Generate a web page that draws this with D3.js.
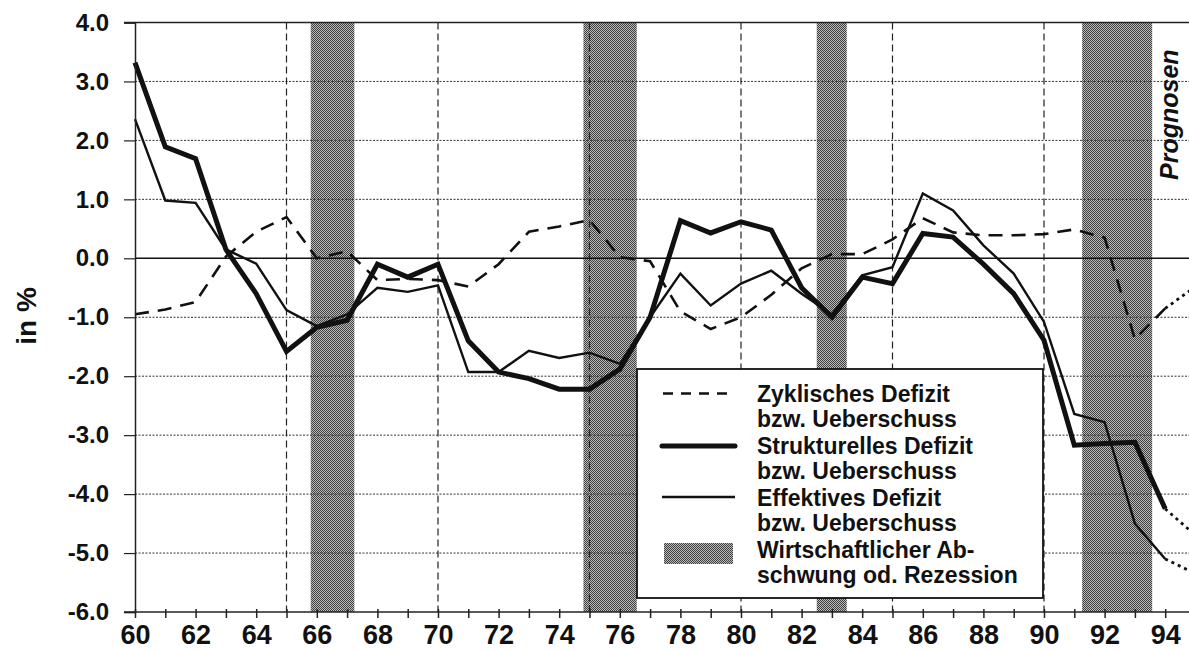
<!DOCTYPE html>
<html>
<head>
<meta charset="utf-8">
<script src="https://cdn.jsdelivr.net/npm/d3@7"></script>
<style>
body { margin: 0; background: #fff; }
svg { display: block; font-family: "Liberation Sans", Arial, sans-serif; font-weight: bold; }
</style>
</head>
<body>
<svg id="chart" width="1189" height="651"></svg>
<script>
// Jahre 1960 - 1994
var years = d3.range(60, 95);

var zyklisch = [-0.95, -0.87, -0.74, 0.03, 0.45, 0.70, 0.00, 0.12, -0.37, -0.35,
                -0.37, -0.48, -0.10, 0.45, 0.54, 0.65, 0.02, -0.05, -0.90, -1.20,
                -1.00, -0.62, -0.17, 0.07, 0.07, 0.32, 0.68, 0.44, 0.39, 0.39,
                0.41, 0.49, 0.35, -1.37, -0.85];

var strukturell = [3.32, 1.89, 1.69, 0.15, -0.60, -1.58, -1.17, -1.05, -0.10, -0.32,
                   -0.10, -1.40, -1.93, -2.04, -2.22, -2.22, -1.88, -1.00, 0.64, 0.43,
                   0.62, 0.48, -0.50, -1.00, -0.32, -0.43, 0.42, 0.36, -0.10, -0.60,
                   -1.39, -3.17, -3.14, -3.12, -4.25];

var effektiv = [2.36, 0.98, 0.94, 0.15, -0.09, -0.88, -1.15, -0.95, -0.50, -0.57,
                -0.46, -1.93, -1.93, -1.57, -1.69, -1.60, -1.79, -1.00, -0.26, -0.80,
                -0.43, -0.21, -0.60, -0.95, -0.29, -0.15, 1.10, 0.81, 0.22, -0.26,
                -1.08, -2.64, -2.78, -4.50, -5.10];

// Prognosen (punktiert)
var prognoseJahre = [94, 95];
var zyklischPrognose = [-0.85, -0.48];
var strukturellPrognose = [-4.25, -4.70];
var effektivPrognose = [-5.10, -5.35];

// Rezessionsphasen
var rezessionStart = [65.8, 74.8, 82.5, 91.26];
var rezessionEnde = [67.24, 76.56, 83.49, 93.57];

var yTicks = [-6, -5, -4, -3, -2, -1, 0, 1, 2, 3, 4];
var dashedYears = [65, 70, 75, 80, 85, 90];

var legendLabels = [
    ['Zyklisches Defizit', 'bzw. Ueberschuss'],
    ['Strukturelles Defizit', 'bzw. Ueberschuss'],
    ['Effektives Defizit', 'bzw. Ueberschuss'],
    ['Wirtschaftlicher Ab-', 'schwung od. Rezession']
];

var svg = d3.select('#chart');

var x = d3.scaleLinear().domain([60, 95]).range([135, 135 + 35 * 30.3]);
var y = d3.scaleLinear().domain([-6, 4]).range([612, 22.5]);

// hatch pattern for recession bands
var defs = svg.append('defs');
var pat = defs.append('pattern')
    .attr('id', 'hatch')
    .attr('patternUnits', 'userSpaceOnUse')
    .attr('width', 2).attr('height', 2);
pat.append('rect').attr('width', 2).attr('height', 2).attr('fill', '#b8b8b8');
pat.append('rect').attr('x', 0).attr('y', 0).attr('width', 1).attr('height', 1).attr('fill', '#424242');
pat.append('rect').attr('x', 1).attr('y', 1).attr('width', 1).attr('height', 1).attr('fill', '#424242');

// bands
svg.append('g').selectAll('rect')
    .data(rezessionStart)
    .enter().append('rect')
    .attr('x', d => x(d))
    .attr('y', y(4))
    .attr('width', (d, i) => x(rezessionEnde[i]) - x(d))
    .attr('height', y(-6) - y(4))
    .attr('fill', 'url(#hatch)');

// horizontal dotted grid
svg.append('g').selectAll('line')
    .data(yTicks.filter(d => d !== 0 && d !== 4 && d !== -6))
    .enter().append('line')
    .attr('x1', x(60)).attr('x2', 1189)
    .attr('y1', d => y(d)).attr('y2', d => y(d))
    .attr('stroke', '#333')
    .attr('stroke-width', 1)
    .attr('stroke-dasharray', '2,1.5');

// vertical dashed lines
svg.append('g').selectAll('line')
    .data(dashedYears)
    .enter().append('line')
    .attr('x1', d => x(d)).attr('x2', d => x(d))
    .attr('y1', y(4)).attr('y2', y(-6))
    .attr('stroke', '#222')
    .attr('stroke-width', 1.2)
    .attr('stroke-dasharray', '7,4');

// zero line and top border
svg.append('line')
    .attr('x1', x(60)).attr('x2', 1189)
    .attr('y1', y(0)).attr('y2', y(0))
    .attr('stroke', '#111').attr('stroke-width', 1.6);
svg.append('line')
    .attr('x1', x(60) - 11).attr('x2', 1189)
    .attr('y1', y(4)).attr('y2', y(4))
    .attr('stroke', '#222').attr('stroke-width', 1.5);

var line = d3.line()
    .x((d, i) => x(years[i]))
    .y(d => y(d));
var lineP = d3.line()
    .x((d, i) => x(prognoseJahre[i]))
    .y(d => y(d));

svg.append('path').datum(effektiv)
    .attr('d', line)
    .attr('fill', 'none').attr('stroke', '#111')
    .attr('stroke-width', 2.4).attr('stroke-linejoin', 'miter');

svg.append('path').datum(strukturell)
    .attr('d', line)
    .attr('fill', 'none').attr('stroke', '#111')
    .attr('stroke-width', 5).attr('stroke-linejoin', 'miter');

svg.append('path').datum(zyklisch)
    .attr('d', line)
    .attr('fill', 'none').attr('stroke', '#111')
    .attr('stroke-width', 2.6)
    .attr('stroke-dasharray', '14,9');

[zyklischPrognose, strukturellPrognose, effektivPrognose].forEach(function (s) {
    svg.append('path').datum(s)
        .attr('d', lineP)
        .attr('fill', 'none').attr('stroke', '#111')
        .attr('stroke-width', 2.8)
        .attr('stroke-dasharray', '3,4');
});

// legend
var lg = svg.append('g');
lg.append('rect')
    .attr('x', 637).attr('y', 369)
    .attr('width', 1043 - 637).attr('height', 598 - 369)
    .attr('fill', '#fff')
    .attr('stroke', '#111').attr('stroke-width', 1.8);

var rowY = [401.7, 453.5, 505.7, 558.3];
lg.selectAll('text.l1')
    .data(legendLabels)
    .enter().append('text')
    .attr('x', 757)
    .attr('y', (d, i) => rowY[i])
    .attr('font-size', 23)
    .attr('fill', '#111')
    .text(d => d[0]);
lg.selectAll('text.l2')
    .data(legendLabels)
    .enter().append('text')
    .attr('x', 757)
    .attr('y', (d, i) => rowY[i] + 25)
    .attr('font-size', 23)
    .attr('fill', '#111')
    .text(d => d[1]);

lg.append('line')
    .attr('x1', 663).attr('x2', 727).attr('y1', 393.5).attr('y2', 393.5)
    .attr('stroke', '#111').attr('stroke-width', 2.6).attr('stroke-dasharray', '10,8');
lg.append('line')
    .attr('x1', 662).attr('x2', 735).attr('y1', 446).attr('y2', 446)
    .attr('stroke', '#111').attr('stroke-width', 5).attr('stroke-linecap', 'round');
lg.append('line')
    .attr('x1', 662).attr('x2', 735).attr('y1', 497).attr('y2', 497)
    .attr('stroke', '#111').attr('stroke-width', 2.4);
lg.append('rect')
    .attr('x', 664).attr('y', 543)
    .attr('width', 69).attr('height', 21)
    .attr('fill', 'url(#hatch)');

// axes
var yAxis = d3.axisLeft(y)
    .tickValues(yTicks)
    .tickSize(11)
    .tickPadding(15)
    .tickFormat(d => d.toFixed(1));
var gy = svg.append('g')
    .attr('transform', 'translate(' + x(60) + ',0)')
    .call(yAxis);
gy.select('.domain').attr('stroke', '#222').attr('stroke-width', 1.5);
gy.selectAll('.tick line').attr('stroke', '#222').attr('stroke-width', 1.2);
gy.selectAll('.tick text')
    .attr('font-size', 24)
    .attr('font-family', '"Liberation Sans", Arial, sans-serif')
    .attr('font-weight', 'bold')
    .attr('fill', '#111');

var xAxis = d3.axisBottom(x)
    .tickValues(d3.range(60, 96))
    .tickSize(6)
    .tickFormat(d => (d % 2 === 0 && d <= 94) ? d : '');
var gx = svg.append('g')
    .attr('transform', 'translate(0,' + y(-6) + ')')
    .call(xAxis);
gx.select('.domain').remove();
gx.append('line')
    .attr('x1', x(60) - 11).attr('x2', 1189)
    .attr('stroke', '#222').attr('stroke-width', 1.5);
gx.selectAll('.tick line').attr('y1', -3).attr('stroke', '#222').attr('stroke-width', 1.5);
gx.selectAll('.tick text')
    .attr('y', 32)
    .attr('dy', 0)
    .attr('font-size', 27)
    .attr('font-family', '"Liberation Sans", Arial, sans-serif')
    .attr('font-weight', 'bold')
    .attr('fill', '#111');

// labels
svg.append('text')
    .attr('transform', 'translate(36,316) rotate(-90)')
    .attr('text-anchor', 'middle')
    .attr('font-size', 28)
    .attr('fill', '#111')
    .text('in %');

svg.append('text')
    .attr('transform', 'translate(1178,180) rotate(-90)')
    .attr('font-size', 25)
    .attr('font-style', 'italic')
    .attr('fill', '#111')
    .text('Prognosen');
</script>
</body>
</html>
